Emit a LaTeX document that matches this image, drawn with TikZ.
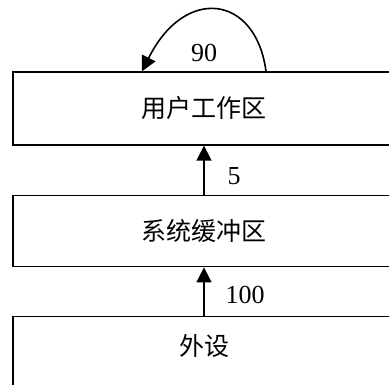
\documentclass[tikz,border=0pt]{standalone}
\usepackage{fontspec}
\setmainfont{Liberation Serif}
\newfontfamily\cjk{Noto Sans CJK SC}
\usetikzlibrary{arrows.meta, positioning, calc}

\tikzset{
  area/.style={draw, line width=1.3pt, minimum width=382pt, inner sep=0pt,
    font=\cjk\fontsize{25}{30}\selectfont},
  num/.style={font=\fontsize{26}{30}\selectfont, inner sep=0pt},
  flow/.style={line width=1.6pt, -{Triangle[length=15pt, width=15pt]}}
}

\begin{document}
\begin{tikzpicture}[x=1pt, y=1pt]
  \clip (0,0) rectangle (389,-385);

  % The three areas
  \node (user) [area, minimum height=73pt] at (204,-108.5) {用户工作区};
  \node (buf)  [area, minimum height=71.5pt] at (204,-231) {系统缓冲区};
  \node (dev)  [area, minimum height=80pt, anchor=north, text depth=24pt] at (204,-316) {外设};

  % Transfers between them
  \draw[flow] (buf.north) -- (user.south);
  \draw[flow] (dev.north) -- (buf.south);
  \node (t5)   [num] at (234,-176.5) {5};
  \node (t100) [num] at (245,-295) {100};

  % Processing inside the user area
  \draw[flow] ([xshift=62pt]user.north) .. controls (256,5) and (185,15) .. ([xshift=-62pt]user.north);
  \node (t90)  [num] at (204,-53) {90};
\end{tikzpicture}
\end{document}
